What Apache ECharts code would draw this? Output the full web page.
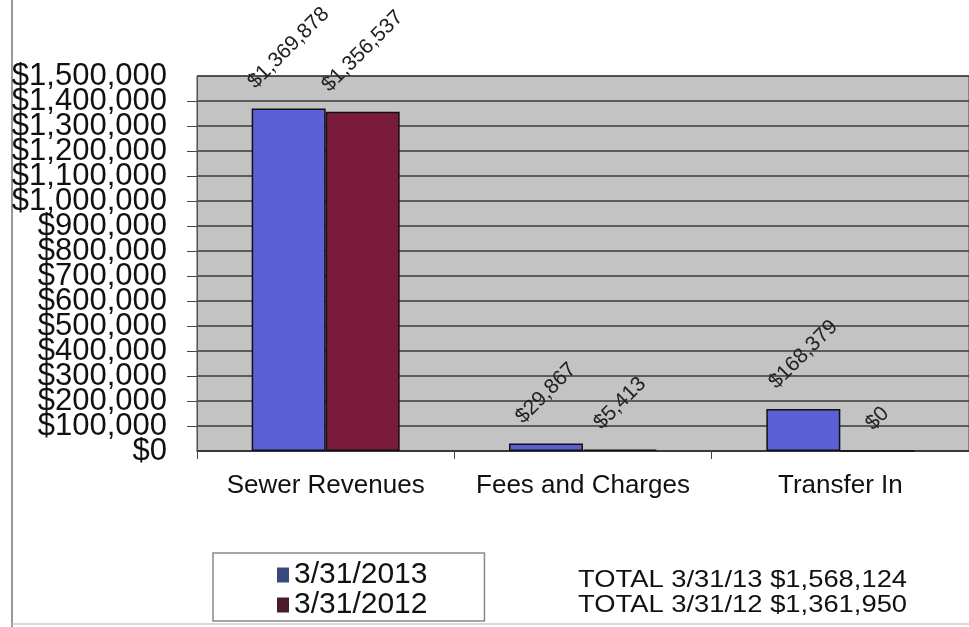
<!DOCTYPE html>
<html>
<head>
<meta charset="utf-8">
<script src="https://cdn.jsdelivr.net/npm/echarts@6/dist/echarts.min.js"></script>
<style>
html,body{margin:0;padding:0;background:#fff;}
#chart{width:969px;height:627px;}
</style>
</head>
<body>
<div id="chart"></div>
<script>
const categories = ['Sewer Revenues', 'Fees and Charges', 'Transfer In'];
const seriesNames = ['3/31/2013', '3/31/2012'];
const values2013 = [1369878, 29867, 168379];
const values2012 = [1356537, 5413, 0];
const totalLines = ['TOTAL 3/31/13 $1,568,124', 'TOTAL 3/31/12 $1,361,950'];
const yMin = 0, yMax = 1500000, yStep = 100000;

const money = v => '$' + Number(v).toLocaleString('en-US');
const FONT = '"Liberation Sans", Arial, sans-serif';

const chart = echarts.init(document.getElementById('chart'));

const labelCfg = {
  show: true,
  position: 'top',
  rotate: 45,
  align: 'center',
  verticalAlign: 'middle',
  fontFamily: FONT,
  fontSize: 21,
  color: '#222',
  formatter: p => money(p.value)
};

const yLabelStyle = { fontFamily: FONT, fontSize: 31, color: '#111', margin: 30, hideOverlap: false };

chart.setOption({
  backgroundColor: '#fff',
  animation: false,
  grid: {
    left: 197, top: 76, width: 785, height: 375,
    show: true, backgroundColor: '#c3c3c3', borderColor: '#444', borderWidth: 1
  },
  legend: {
    orient: 'vertical',
    left: 213, top: 553,
    padding: [7, 57, 1, 64],
    itemGap: 0,
    itemWidth: 12, itemHeight: 15,
    icon: 'rect',
    borderColor: '#888', borderWidth: 1.5,
    backgroundColor: '#fff',
    textStyle: { fontFamily: FONT, fontSize: 30, color: '#111', lineHeight: 30 },
    data: [
      { name: seriesNames[0], itemStyle: { color: '#3a4880', borderWidth: 0 } },
      { name: seriesNames[1], itemStyle: { color: '#4a1c2a', borderWidth: 0 } }
    ]
  },
  xAxis: {
    type: 'category',
    data: categories,
    axisLine: { lineStyle: { color: '#333', width: 1.5 } },
    axisTick: { show: true, length: 8, lineStyle: { color: '#444' } },
    axisLabel: { interval: 0, hideOverlap: false, fontFamily: FONT, fontSize: 26, color: '#111', margin: 22 }
  },
  yAxis: [
    {
      type: 'value',
      min: yMin, max: yMax, interval: yStep,
      axisLine: { show: true, lineStyle: { color: '#555', width: 1 } },
      axisTick: { show: true, length: 10, lineStyle: { color: '#444' } },
      splitLine: { lineStyle: { color: '#3a3a3a', width: 1.5 } },
      axisLabel: Object.assign({ showMinLabel: false, showMaxLabel: false, formatter: v => money(v) }, yLabelStyle)
    },
    {
      type: 'value', position: 'left',
      min: yMin, max: yMax, interval: yStep,
      axisLine: { show: false }, axisTick: { show: false }, splitLine: { show: false },
      axisLabel: Object.assign({
        showMinLabel: true, showMaxLabel: true,
        formatter: v => (v === yMin || v === yMax) ? money(v) : ''
      }, yLabelStyle)
    }
  ],
  labelLayout: function (params) {
    return {
      x: params.rect.x + params.rect.width / 2,
      y: params.rect.y - 16 - params.labelRect.height / 2
    };
  },
  series: [
    {
      name: seriesNames[0], type: 'bar', data: values2013, yAxisIndex: 0,
      barWidth: 74, barGap: '0%',
      itemStyle: { color: '#5b60d6', borderColor: '#111', borderWidth: 1.5 },
      label: labelCfg
    },
    {
      name: seriesNames[1], type: 'bar', data: values2012, yAxisIndex: 0,
      barWidth: 74,
      itemStyle: { color: '#7a1b3b', borderColor: '#111', borderWidth: 1.5 },
      label: labelCfg
    }
  ],
  graphic: [
    { type: 'line', shape: { x1: 12, y1: 0, x2: 12, y2: 627 }, style: { stroke: '#777', lineWidth: 1.5 } },
    { type: 'line', shape: { x1: 12, y1: 624, x2: 969, y2: 624 }, style: { stroke: '#ccc', lineWidth: 1.5 } },
    { type: 'text', x: 578, y: 580, scaleX: 1.14, style: { text: totalLines[0], font: '24px ' + FONT, fill: '#111', textVerticalAlign: 'middle' } },
    { type: 'text', x: 578, y: 605, scaleX: 1.14, style: { text: totalLines[1], font: '24px ' + FONT, fill: '#111', textVerticalAlign: 'middle' } }
  ]
});
</script>
</body>
</html>
